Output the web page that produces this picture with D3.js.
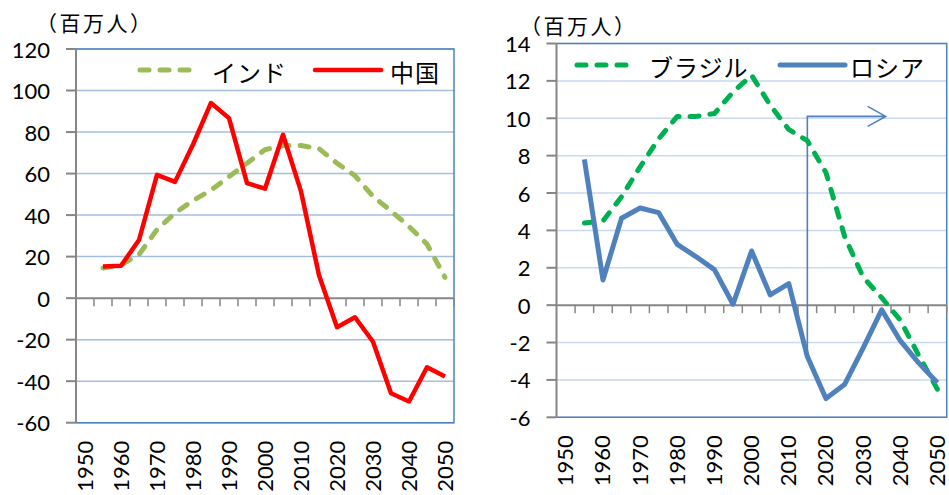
<!DOCTYPE html>
<html>
<head>
<meta charset="utf-8">
<script src="https://cdn.jsdelivr.net/npm/d3@7"></script>
<style>
  body { margin: 0; background: #fff; }
  svg { display: block; }
  .num { font-family: Lato, "Liberation Sans", sans-serif; font-size: 22px; fill: #000; }
  .jp { font-family: "Noto Sans CJK JP", "Noto Sans", sans-serif; fill: #000; }
</style>
</head>
<body>
<svg id="chart" width="949" height="495"></svg>
<script>
// categories (5-year steps)
const years = ['1950','1955','1960','1965','1970','1975','1980','1985','1990','1995','2000',
               '2005','2010','2015','2020','2025','2030','2035','2040','2045','2050'];
const yearLabels = ['1950','1960','1970','1980','1990','2000','2010','2020','2030','2040','2050'];

// left panel: population change, millions
const india = [null, 14.5, 16, 21, 33, 41, 47, 52, 58.5, 65, 71.5, 73.5, 73.5, 72, 65, 59, 49, 42, 34.5, 26, 10];
const china = [null, 15.2, 15.6, 28, 59.4, 56, 74, 94, 86.7, 55.4, 52.7, 78.7, 51.4, 11, -14, -9.2, -21, -45.8, -49.8, -33.3, -37.8];
const leftTicks = [-60, -40, -20, 0, 20, 40, 60, 80, 100, 120];

// right panel
const brazil = [null, 4.4, 4.5, 5.8, 7.4, 8.9, 10.1, 10.1, 10.25, 11.4, 12.3, 10.7, 9.4, 8.8, 7.1, 3.7, 1.5, 0.4, -0.8, -2.7, -4.5];
const russia = [null, 7.8, 1.35, 4.65, 5.2, 4.95, 3.25, 2.6, 1.9, 0.05, 2.9, 0.55, 1.15, -2.75, -5.0, -4.25, -2.3, -0.25, -1.9, -3.1, -4.15];
const rightTicks = [-6, -4, -2, 0, 2, 4, 6, 8, 10, 12, 14];

const unitLabel = '（百万人）';

const svg = d3.select('#chart');

function drawPanel(cfg) {
    const x = d3.scaleBand().domain(years).range([cfg.left, cfg.right]).padding(0);
    const y = d3.scaleLinear().domain(d3.extent(cfg.ticks)).range([cfg.bottom, cfg.top]);
    const g = svg.append('g');
    const xc = d => x(d) + x.bandwidth() / 2;

    // gridlines
    g.selectAll('line.grid')
        .data(cfg.ticks.filter(t => t !== 0))
        .enter().append('line')
        .attr('x1', cfg.left).attr('x2', cfg.right)
        .attr('y1', d => y(d)).attr('y2', d => y(d))
        .attr('stroke', cfg.gridColor).attr('stroke-width', 1.5);

    // plot border (top, right, bottom)
    g.append('path')
        .attr('d', `M${cfg.left},${cfg.top}H${cfg.right}V${cfg.bottom}H${cfg.left}`)
        .attr('fill', 'none').attr('stroke', '#4F81BD').attr('stroke-width', 1.5);

    // y axis
    g.append('line')
        .attr('x1', cfg.left).attr('x2', cfg.left)
        .attr('y1', cfg.top).attr('y2', cfg.bottom)
        .attr('stroke', '#868686').attr('stroke-width', 2);
    g.selectAll('line.ytick')
        .data(cfg.ticks)
        .enter().append('line')
        .attr('x1', cfg.left - 10).attr('x2', cfg.left)
        .attr('y1', d => y(d)).attr('y2', d => y(d))
        .attr('stroke', '#868686').attr('stroke-width', 2);
    g.selectAll('text.ylab')
        .data(cfg.ticks)
        .enter().append('text')
        .attr('class', 'num')
        .attr('x', cfg.left - 26)
        .attr('y', d => y(d))
        .attr('text-anchor', 'end')
        .attr('dominant-baseline', 'central')
        .text(d => d);

    // zero line with category ticks
    g.append('line')
        .attr('x1', cfg.left).attr('x2', cfg.right)
        .attr('y1', y(0)).attr('y2', y(0))
        .attr('stroke', '#868686').attr('stroke-width', 2);
    g.selectAll('line.xtick')
        .data(years.slice(1).concat(['end']))
        .enter().append('line')
        .attr('x1', d => d === 'end' ? cfg.right : x(d))
        .attr('x2', d => d === 'end' ? cfg.right : x(d))
        .attr('y1', y(0)).attr('y2', y(0) + 8)
        .attr('stroke', '#868686').attr('stroke-width', 1.5);

    // year labels
    g.selectAll('text.xlab')
        .data(yearLabels)
        .enter().append('text')
        .attr('class', 'num')
        .attr('transform', d => `translate(${xc(d) - 1},${cfg.bottom + 18}) rotate(-90)`)
        .attr('text-anchor', 'end')
        .attr('dominant-baseline', 'central')
        .text(d => d);

    // unit label
    g.append('text')
        .attr('class', 'jp')
        .attr('x', cfg.unitX).attr('y', cfg.unitY)
        .attr('dominant-baseline', 'central')
        .style('font-size', '21px')
        .style('letter-spacing', '2.5px')
        .text(unitLabel);

    const line = d3.line()
        .defined(d => d.v != null)
        .x(d => xc(d.year))
        .y(d => y(d.v));

    if (cfg.annotation) {
        const a = cfg.annotation;
        const ax = xc(a.year), ay = y(a.top), ex = xc(a.toYear) + 4;
        g.append('path')
            .attr('d', `M${ax},${y(a.bottom)}V${ay}H${ex}M${ex - 18},${ay - 10}L${ex},${ay}L${ex - 18},${ay + 10}`)
            .attr('fill', 'none').attr('stroke', '#4F81BD').attr('stroke-width', 1.6);
    }

    cfg.series.forEach(s => {
        const pts = years.map((yr, i) => ({ year: yr, v: s.values[i] }));
        g.append('path')
            .datum(pts)
            .attr('d', line)
            .attr('fill', 'none')
            .attr('stroke', s.color)
            .attr('stroke-width', s.width)
            .attr('stroke-linejoin', 'round')
            .attr('stroke-linecap', s.dashed ? 'round' : 'butt')
            .attr('stroke-dasharray', s.dashed ? '9,11' : null);

        // legend entry
        const L = s.legend;
        g.append('line')
            .attr('x1', L.x1).attr('x2', L.x2)
            .attr('y1', L.y).attr('y2', L.y)
            .attr('stroke', s.color)
            .attr('stroke-width', s.width)
            .attr('stroke-linecap', 'round')
            .attr('stroke-dasharray', s.dashed ? '9,11' : null);
        g.append('text')
            .attr('class', 'jp')
            .attr('x', L.tx).attr('y', L.y + 1)
            .attr('dominant-baseline', 'central')
            .style('font-size', '24px')
            .style('letter-spacing', '1px')
            .text(s.name);
    });
}

drawPanel({
    left: 76, right: 454, top: 49, bottom: 422.7,
    ticks: leftTicks, gridColor: '#A3BEE0',
    unitX: 36, unitY: 22,
    series: [
        { name: 'インド', values: india, color: '#9BBB59', width: 5, dashed: true,
          legend: { x1: 140, x2: 196, y: 70, tx: 212 } },
        { name: '中国', values: china, color: '#FF0000', width: 4.5, dashed: false,
          legend: { x1: 315, x2: 381, y: 70, tx: 390 } }
    ]
});

drawPanel({
    left: 556.5, right: 946.7, top: 43.5, bottom: 417.3,
    ticks: rightTicks, gridColor: '#C9D9EE',
    unitX: 520, unitY: 25,
    annotation: { year: '2015', top: 10.1, bottom: -2.6, toYear: '2035' },
    series: [
        { name: 'ブラジル', values: brazil, color: '#00B050', width: 5, dashed: true,
          legend: { x1: 577, x2: 633, y: 65, tx: 649 } },
        { name: 'ロシア', values: russia, color: '#4F81BD', width: 5, dashed: false,
          legend: { x1: 780, x2: 845, y: 65, tx: 850 } }
    ]
});
</script>
</body>
</html>
